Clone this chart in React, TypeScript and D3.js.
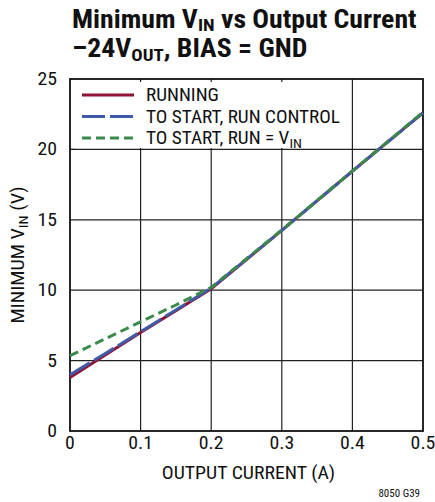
import { useEffect, useRef } from 'react';
import * as d3 from 'd3';

const current = [0, 0.05, 0.1, 0.15, 0.2, 0.3, 0.4, 0.5];
const running = [3.8, 5.4, 7.0, 8.55, 10.1, 14.25, 18.45, 22.6];
const startRunControl = [4.0, 5.5, 7.05, 8.6, 10.15, 14.25, 18.45, 22.6];
const startRunVin = [5.35, 6.55, 7.75, 8.95, 10.2, 14.28, 18.47, 22.65];

const xTicks = [0, 0.1, 0.2, 0.3, 0.4, 0.5];
const yTicks = [0, 5, 10, 15, 20, 25];

const W = 435;
const H = 502;
const FONT = '"Liberation Sans Narrow", "Arial Narrow", "Roboto Condensed", sans-serif';

export default function App() {
  const svgRef = useRef<SVGSVGElement>(null);

  useEffect(() => {
    if (!svgRef.current) return;
    const svg = d3.select(svgRef.current);
    svg.selectAll('*').remove();

    const left = 70, right = 423, top = 79, bottom = 431;
    const x = d3.scaleLinear().domain([0, 0.5]).range([left, right]);
    const y = d3.scaleLinear().domain([0, 25]).range([bottom, top]);

    svg.attr('viewBox', `0 0 ${W} ${H}`).style('font-family', FONT);

    // title (stretched a bit, the original face is wider)
    const t1 = svg.append('text').attr('transform', 'translate(72,28) scale(1.11,1)')
      .attr('font-size', 25).attr('font-weight', 'bold').attr('fill', '#111');
    t1.append('tspan').text('Minimum V');
    t1.append('tspan').text('IN').attr('font-size', 17).attr('dy', 3);
    t1.append('tspan').text(' vs Output Current').attr('dy', -3);

    const t2 = svg.append('text').attr('transform', 'translate(72,57) scale(1.11,1)')
      .attr('font-size', 25).attr('font-weight', 'bold').attr('fill', '#111');
    t2.append('tspan').text('\u201324V');
    t2.append('tspan').text('OUT').attr('font-size', 17).attr('dy', 4);
    t2.append('tspan').text(', BIAS = GND').attr('dy', -4);

    // grid
    const grid = svg.append('g').attr('stroke', '#222').attr('stroke-width', 1.2);
    xTicks.slice(1, -1).forEach(v => {
      grid.append('line').attr('x1', x(v)).attr('x2', x(v)).attr('y1', top).attr('y2', bottom);
    });
    yTicks.slice(1, -1).forEach(v => {
      grid.append('line').attr('x1', left).attr('x2', right).attr('y1', y(v)).attr('y2', y(v));
    });

    // legend background
    svg.append('rect').attr('x', left + 1).attr('y', 82).attr('width', 272).attr('height', 66)
      .attr('fill', 'white');
    svg.append('line').attr('x1', left).attr('x2', left + 5).attr('y1', y(20)).attr('y2', y(20))
      .attr('stroke', '#222').attr('stroke-width', 1.2);

    // frame
    svg.append('rect').attr('x', left).attr('y', top).attr('width', right - left)
      .attr('height', bottom - top).attr('fill', 'none').attr('stroke', '#111').attr('stroke-width', 1.8);

    const series = [
      { name: 'RUNNING', values: running, color: '#8e1538', dash: null },
      { name: 'TO START, RUN CONTROL', values: startRunControl, color: '#3f5aa8', dash: '23,5' },
      { name: 'TO START, RUN = V', sub: 'IN', values: startRunVin, color: '#3a8a4c', dash: '9,5' },
    ];

    const line = d3.line<number>().x((_, i) => x(current[i])).y(d => y(d));

    series.forEach(s => {
      const p = svg.append('path').attr('d', line(s.values)).attr('fill', 'none')
        .attr('stroke', s.color).attr('stroke-width', 3);
      if (s.dash) p.attr('stroke-dasharray', s.dash);
    });

    // legend
    series.forEach((s, i) => {
      const ly = 95 + i * 21.5;
      const l = svg.append('line').attr('x1', 82).attr('x2', 134).attr('y1', ly).attr('y2', ly)
        .attr('stroke', s.color).attr('stroke-width', 3);
      if (s.dash) l.attr('stroke-dasharray', s.dash);
      const tx = svg.append('text').attr('transform', `translate(146,${ly + 6}) scale(1.1,1)`)
        .attr('font-size', 17.5).attr('fill', '#111');
      tx.append('tspan').text(s.name);
      if (s.sub) tx.append('tspan').text(s.sub).attr('font-size', 13).attr('dy', 4);
    });

    // axes labels
    xTicks.forEach(v => {
      svg.append('text').attr('transform', `translate(${x(v)},449) scale(1.1,1)`).attr('text-anchor', 'middle')
        .attr('font-size', 18).attr('fill', '#111').text(String(v));
    });
    yTicks.forEach(v => {
      svg.append('text').attr('transform', `translate(57,${y(v) + 6}) scale(1.1,1)`).attr('text-anchor', 'end')
        .attr('font-size', 18).attr('fill', '#111').text(String(v));
    });

    svg.append('text').attr('transform', `translate(${(left + right) / 2 + 2},479) scale(1.1,1)`)
      .attr('text-anchor', 'middle')
      .attr('font-size', 18).attr('fill', '#111').text('OUTPUT CURRENT (A)');

    const yt = svg.append('text').attr('transform', `translate(24,${(top + bottom) / 2}) rotate(-90) scale(1.12,1)`)
      .attr('text-anchor', 'middle').attr('font-size', 18).attr('fill', '#111');
    yt.append('tspan').text('MINIMUM V');
    yt.append('tspan').text('IN').attr('font-size', 13).attr('dy', 4);
    yt.append('tspan').text(' (V)').attr('dy', -4);

    svg.append('text').attr('x', 420).attr('y', 497).attr('text-anchor', 'end')
      .attr('font-size', 11).attr('fill', '#111').text('8050 G39');
  }, []);

  return (
    <svg ref={svgRef} width={W} height={H}
      style={{ position: 'absolute', left: 0, top: 0, background: 'white' }} />
  );
}
